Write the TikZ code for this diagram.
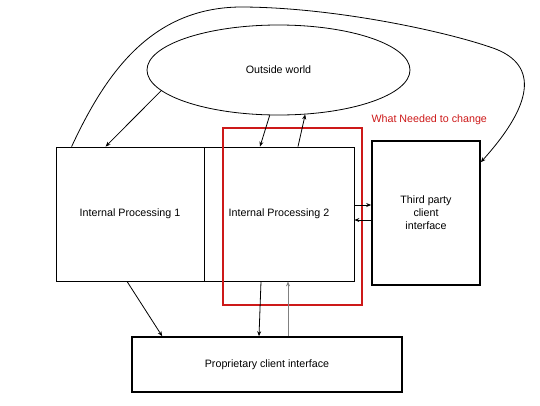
\documentclass[tikz,border=0pt]{standalone}
\usepackage{fontspec}
\setmainfont{Liberation Sans}
\usetikzlibrary{arrows.meta,shapes.geometric}

\definecolor{chgred}{RGB}{205,25,25}

\begin{document}
\begin{tikzpicture}[x=1pt, y=-1pt, >={Stealth[length=5pt,width=4pt]},
    font=\fontsize{10.7}{13}\selectfont,
    thinbox/.style={draw, line width=0.8pt, inner sep=0pt},
    thickbox/.style={draw, line width=1.6pt, inner sep=0pt},
    link/.style={->, line width=0.8pt}]

  \useasboundingbox (0,0) rectangle (540,405);

  %=====================================================================
  % boxes
  %=====================================================================
  \node[thinbox, ellipse, minimum width=263pt, minimum height=90pt]
    (world) at (278.5,70) {Outside world};
  \node[thinbox, minimum width=148pt, minimum height=134pt]
    (proc1) at (130,214) {Internal Processing 1};
  \node[thinbox, minimum width=150pt, minimum height=134pt]
    (proc2) at (279,214) {Internal Processing 2};
  \node[thickbox, minimum width=108pt, minimum height=144pt, align=center]
    (third) at (426,213) {Third party\\client\\interface};
  \node[thickbox, minimum width=270pt, minimum height=55pt]
    (prop) at (267,364.5) {Proprietary client interface};

  % red frame round the part that had to change
  \node[draw=chgred, line width=1.5pt, minimum width=139pt, minimum height=177pt]
    (change) at (292.5,216.5) {};
  \node[text=chgred, anchor=south west] (changelbl) at (368,128) {What Needed to change};

  %=====================================================================
  % connectors
  %=====================================================================
  \draw[link] (world.190) -- ([xshift=50pt]proc1.north west);
  \draw[link] (world.259) -- ([xshift=-19pt]proc2.north);
  \draw[link] ([xshift=19pt]proc2.north) -- (world.301);

  \draw[link] ([yshift=9pt]proc2.east) -- ([yshift=9pt]proc2.east -| third.west);
  \draw[link] ([yshift=-6pt]proc2.east -| third.west) -- ([yshift=-6pt]proc2.east);

  \draw[link] ([xshift=-3pt]proc1.south) -- ([xshift=31pt]prop.north west);
  \draw[link] ([xshift=-18pt]proc2.south) -- ([xshift=-8pt]prop.north);
  \draw[link, line width=1pt, draw=gray, fill=gray]
    ([xshift=21pt]prop.north) -- ([xshift=21pt]prop.north |- proc2.south);

  % long loop from proc1 over the world to the third party box
  \draw[link] ([xshift=16pt]proc1.north west)
    .. controls (105,75) and (150,8) .. (240,7)
    .. controls (330,7) and (440,30) .. (490,47)
    .. controls (537,62) and (537,100) .. ([yshift=-22pt]third.north east);

\end{tikzpicture}
\end{document}
